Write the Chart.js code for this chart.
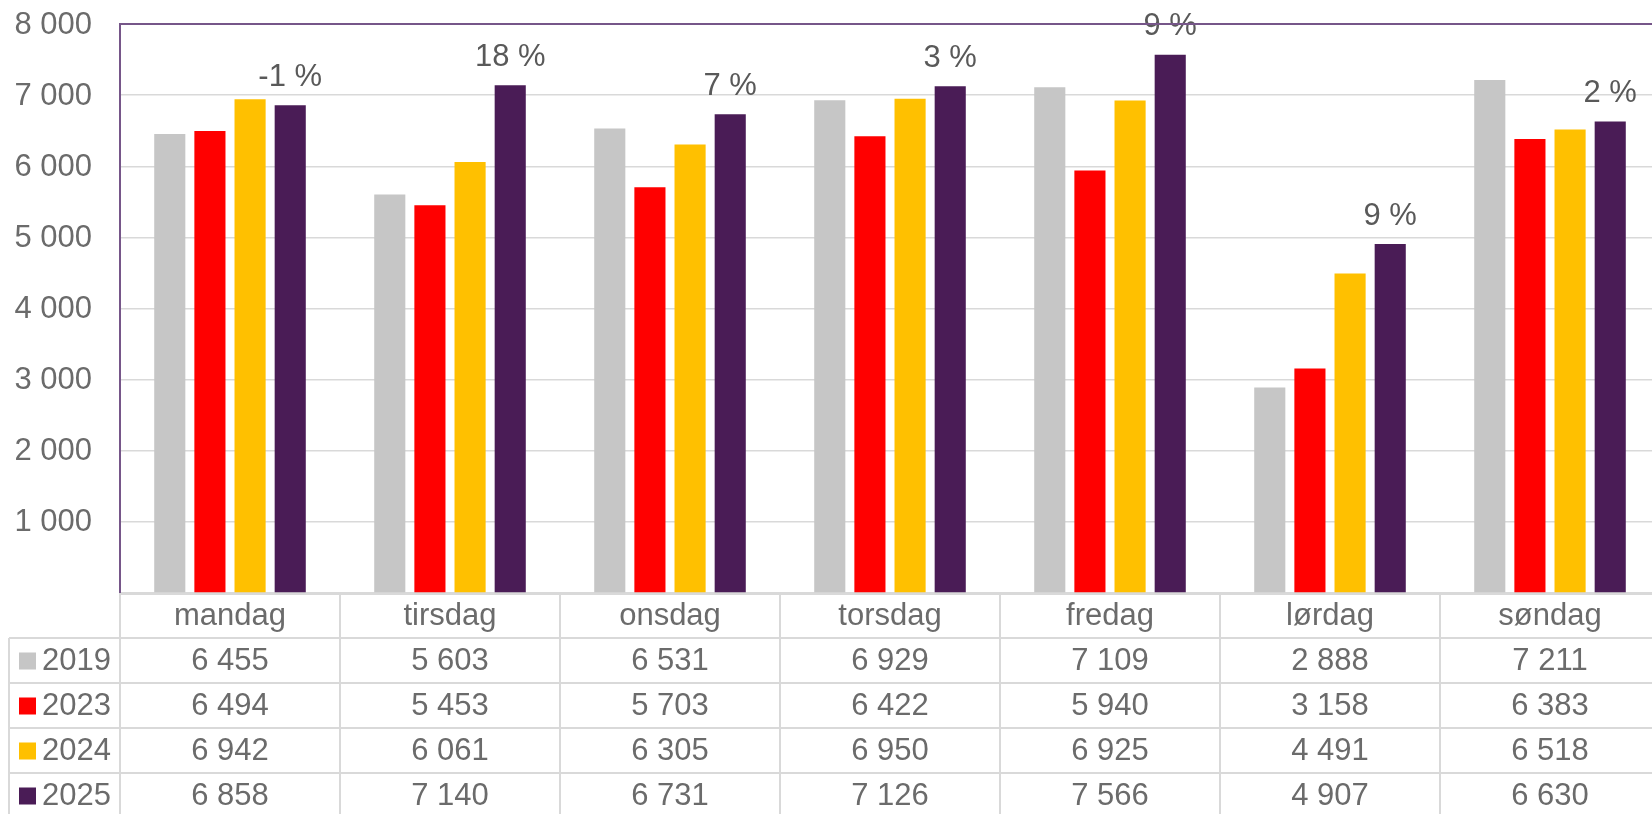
<!DOCTYPE html>
<html>
<head>
<meta charset="utf-8">
<script src="https://cdn.jsdelivr.net/npm/chart.js@4"></script>
<style>
html,body{margin:0;padding:0;background:#fff;overflow:hidden;}
#wrap{width:1660px;height:814px;position:relative;}
</style>
</head>
<body>
<div id="wrap"><canvas id="c"></canvas></div>
<script>
const categories = ['mandag','tirsdag','onsdag','torsdag','fredag','lørdag','søndag'];
const seriesNames = ['2019','2023','2024','2025'];
const v2019 = [6455,5603,6531,6929,7109,2888,7211];
const v2023 = [6494,5453,5703,6422,5940,3158,6383];
const v2024 = [6942,6061,6305,6950,6925,4491,6518];
const v2025 = [6858,7140,6731,7126,7566,4907,6630];
const changeLabels = ['-1 %','18 %','7 %','3 %','9 %','9 %','2 %'];
const colors = ['#c6c6c6','#ff0000','#ffc000','#4a1c56'];
const yTicks = [0,1000,2000,3000,4000,5000,6000,7000,8000];

const FONT = '"Liberation Sans", Arial, sans-serif';
const FS = 31;
const TXT = '#6b6b6b';
const GRID = '#d9d9d9';
const BORDER = '#765689';

function fmt(n){ return String(n).replace(/\B(?=(\d{3})+(?!\d))/g,' '); }

const tablePlugin = {
  id:'tablePlugin',
  afterDatasetsDraw(chart){
    const ctx = chart.ctx;
    const ca = chart.chartArea;
    const xs = chart.scales.x;
    const ys = chart.scales.y;
    const n = categories.length;
    const colW = (ca.right - ca.left)/n;

    // y tick labels
    ctx.save();
    ctx.font = FS + 'px ' + FONT;
    ctx.fillStyle = TXT;
    ctx.textAlign = 'right';
    ctx.textBaseline = 'middle';
    yTicks.forEach(v=>{
      if(v===0) return;
      ctx.fillText(fmt(v), ca.left - 28, ys.getPixelForValue(v) + 1);
    });
    ctx.restore();

    // percentage labels over 2025 bars
    const meta = chart.getDatasetMeta(3);
    ctx.save();
    ctx.font = FS + 'px ' + FONT;
    ctx.fillStyle = '#595959';
    ctx.textAlign = 'center';
    ctx.textBaseline = 'middle';
    meta.data.forEach((bar,i)=>{
      ctx.fillText(changeLabels[i], bar.x, bar.y - 28);
    });
    ctx.restore();

    // top border
    ctx.save();
    ctx.strokeStyle = BORDER;
    ctx.lineWidth = 2;
    ctx.beginPath();
    ctx.moveTo(ca.left, ca.top);
    ctx.lineTo(ca.right+10, ca.top);
    ctx.stroke();
    ctx.restore();

    // data table
    const top = ca.bottom;
    const headH = 45;
    const rowH = 45;
    const legLeft = 9;
    ctx.save();
    ctx.strokeStyle = GRID;
    ctx.lineWidth = 2;
    ctx.beginPath();
    ctx.moveTo(ca.left, top+1); ctx.lineTo(ca.right+10, top+1);
    for(let r=0;r<=seriesNames.length;r++){
      const y = top + headH + r*rowH;
      ctx.moveTo(legLeft, y); ctx.lineTo(ca.right+10, y);
    }
    for(let i=0;i<=n;i++){
      const x = ca.left + i*colW;
      ctx.moveTo(x, top); ctx.lineTo(x, top + headH + seriesNames.length*rowH + 10);
    }
    ctx.moveTo(legLeft, top+headH); ctx.lineTo(legLeft, top + headH + seriesNames.length*rowH + 10);
    ctx.stroke();

    ctx.font = FS + 'px ' + FONT;
    ctx.fillStyle = TXT;
    ctx.textBaseline = 'middle';
    ctx.textAlign = 'center';
    categories.forEach((c,i)=>{
      ctx.fillText(c, xs.getPixelForValue(i), top + headH/2 + 1);
    });
    const all = [v2019,v2023,v2024,v2025];
    all.forEach((arr,r)=>{
      const yc = top + headH + r*rowH + rowH/2 + 1;
      ctx.textAlign = 'center';
      ctx.fillStyle = TXT;
      arr.forEach((v,i)=>{
        ctx.fillText(fmt(v), xs.getPixelForValue(i), yc);
      });
      ctx.fillStyle = colors[r];
      ctx.fillRect(19, yc - 9, 17, 17);
      ctx.fillStyle = TXT;
      ctx.textAlign = 'left';
      ctx.fillText(seriesNames[r], 42, yc);
    });
    ctx.restore();
  }
};

const datasets = [v2019,v2023,v2024,v2025].map((arr,i)=>({
  label: seriesNames[i],
  data: arr,
  backgroundColor: colors[i],
  borderWidth: 0,
  categoryPercentage: 0.73,
  barPercentage: 0.775
}));

new Chart(document.getElementById('c'), {
  type:'bar',
  data:{ labels: categories, datasets },
  options:{
    responsive:true,
    maintainAspectRatio:false,
    animation:false,
    devicePixelRatio:1,
    layout:{ padding:{ top:24, left:0, right:0, bottom:0 } },
    plugins:{ legend:{display:false}, tooltip:{enabled:false} },
    scales:{
      x:{
        grid:{ display:false },
        border:{ display:false },
        ticks:{ display:false },
        afterFit(scale){ scale.height = 221; }
      },
      y:{
        min:0, max:8000,
        afterBuildTicks(scale){ scale.ticks = yTicks.map(v=>({value:v})); },
        grid:{ color:GRID, lineWidth:1.5, drawTicks:false },
        border:{ display:true, color:BORDER, width:2 },
        ticks:{ display:false },
        afterFit(scale){ scale.width = 120; }
      }
    }
  },
  plugins:[tablePlugin]
});
</script>
</body>
</html>
